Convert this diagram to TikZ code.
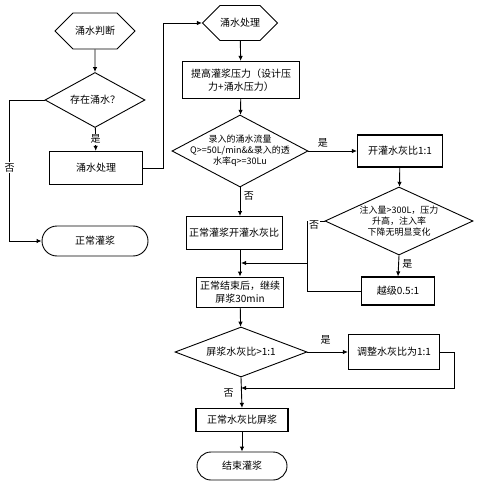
\documentclass[tikz,border=0pt]{standalone}
\usepackage{fontspec}
\newfontfamily\cjk{Noto Sans CJK SC}
\usetikzlibrary{arrows.meta,shapes.geometric,shapes.misc,shapes.symbols}

\begin{document}
\begin{tikzpicture}[x=1pt, y=-1pt,
        font=\cjk\fontsize{10}{12.5}\selectfont,
        >={Latex[length=5pt,width=4.5pt]},
        every path/.style={line width=0.9pt},
        hexa/.style={draw, signal, signal to=east and west, signal from=nowhere, inner sep=0pt, minimum height=36pt, align=center},
        box/.style={draw, line width=1.2pt, inner sep=1pt, align=center},
        cond/.style={draw, diamond, inner sep=0pt},
        small/.style={font=\cjk\fontsize{9}{11}\selectfont},
        term/.style={draw, rounded rectangle, inner sep=0pt, align=center},
        lab/.style={fill=white, inner sep=1pt}]
    \useasboundingbox (0,0) rectangle (477,486);

    % left column
    \node[hexa, minimum width=80pt] (judge) at (95,31) {涌水判断};
    \node[cond, minimum width=100pt, minimum height=55pt, label=center:存在涌水？] (exist) at (95,100) {};
    \node[box, minimum width=93pt, minimum height=33pt] (treat) at (96,168) {涌水处理};
    \node[term, minimum width=106pt, minimum height=30pt] (normal) at (95,241) {正常灌浆};

    % main column
    \node[hexa, minimum width=75pt, minimum height=35pt] (treat2) at (240,23) {涌水处理};
    \node[box, minimum width=117pt, minimum height=37pt] (raise) at (241,80) {提高灌浆压力（设计压\\力+涌水压力）};
    \node[cond, minimum width=136pt, minimum height=72pt,
        label={[align=center, small]center:录入的涌水流量\\Q>=50L/min\&\&录入的透\\水率q>=30Lu}] (flow) at (240,151) {};
    \node[box, line width=0.9pt, minimum width=96pt, minimum height=33pt] (normgrout) at (234,233) {正常灌浆开灌水灰比};
    \node[box, line width=0.9pt, minimum width=87pt, minimum height=30pt] (cont) at (240,292) {正常结束后，继续\\屏浆30min};
    \node[cond, minimum width=132pt, minimum height=50pt, label=center:屏浆水灰比>1:1] (ratio) at (241,352) {};
    \node[box, minimum width=92pt, minimum height=23pt] (normratio) at (242,420) {正常水灰比屏浆};
    \node[term, minimum width=90pt, minimum height=28pt] (finish) at (242,466) {结束灌浆};

    % right column
    \node[box, minimum width=85pt, minimum height=32pt] (w11) at (400,151) {开灌水灰比1:1};
    \node[cond, minimum width=148pt, minimum height=68pt,
        label={[align=center, small]center:注入量>300L，压力\\升高，注入率\\下降无明显变化}] (inject) at (399,221) {};
    \node[box, minimum width=73pt, minimum height=28pt] (skip) at (398,291) {越级0.5:1};
    \node[box, minimum width=91pt, minimum height=35pt] (adjust) at (394,352) {调整水灰比为1:1};

    \coordinate (j1) at (307,263);
    \coordinate (m1) at (241,263);
    \coordinate (m2) at (241,388);

    % connectors
    \draw[->] (judge) -- (exist);
    \draw[->] (exist) -- node[lab]{是} (treat);
    \draw[->] (exist.west) -- ++(-35,0) |- node[lab, pos=0.24]{否} (normal.west);
    \draw[->] (treat.east) -- ++(20,0) |- (treat2.west);
    \draw[->] (treat2) -- (raise);
    \draw[->] (raise) -- (flow);
    \draw[->] (flow.east) -- node[above, pos=0.3]{是} (w11.west);
    \draw[->] (flow.south) -- node[right, pos=0.3]{否} (flow.south |- normgrout.north);
    \draw[->] (w11) -- (inject);
    \draw[->] (inject.south) -- node[right, pos=0.4]{是} (skip.north);
    \draw (inject.west) -| node[lab, pos=0.3, yshift=-4pt]{否} (j1);
    \draw (skip.west) -| (j1);
    \draw[->] (j1) -- (m1);
    \draw[->] (cont.north |- normgrout.south) -- (cont.north);
    \draw[->] (cont) -- (ratio);
    \draw[->] (ratio.east) -- node[above, pos=0.45, yshift=4pt]{是} (adjust.west);
    \draw[->] (adjust.east) -- ++(14,0) |- (m2);
    \draw[->] (ratio.south) -- node[left, pos=0.5, xshift=-4pt]{否} (normratio.north);
    \draw[->] (normratio) -- (finish);
\end{tikzpicture}
\end{document}
